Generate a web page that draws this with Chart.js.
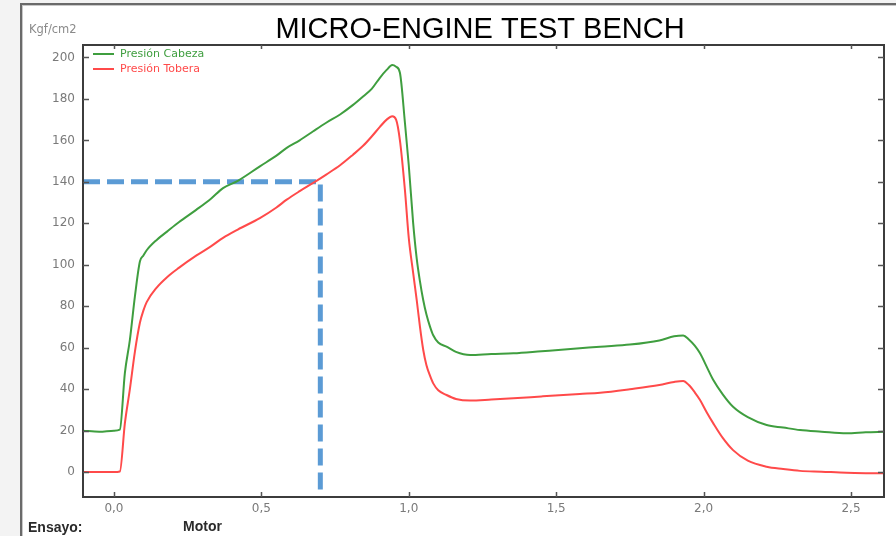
<!DOCTYPE html>
<html>
<head>
<meta charset="utf-8">
<script src="https://cdn.jsdelivr.net/npm/chart.js@4.4.1/dist/chart.umd.min.js"></script>
<style>
  html, body { margin: 0; padding: 0; width: 896px; height: 536px; overflow: hidden; background: #f3f3f3; }
  #frame { position: absolute; left: 20px; top: 3px; width: 890px; height: 545px; background: #fff;
           border-left: 2px solid #6a6a6a; border-top: 2px solid #6a6a6a; box-shadow: inset 1px 1px 0 #c8c8c8; }
  #c { position: absolute; left: 0; top: 0; }
</style>
</head>
<body>
<div id="frame"></div>
<canvas id="c" width="896" height="536"></canvas>
<script>
// ---- data ----
const chartTitle = "MICRO-ENGINE TEST BENCH";
const yUnit = "Kgf/cm2";
const footerLabels = ["Ensayo:", "Motor"];
const seriesNames = ["Presión Cabeza", "Presión Tobera"];

const time = [-0.105, -0.05, 0.0, 0.02, 0.037, 0.054, 0.071, 0.088, 0.1, 0.111, 0.145, 0.18, 0.22, 0.28, 0.33, 0.37,
  0.42, 0.495, 0.55, 0.586, 0.63, 0.676, 0.72, 0.767, 0.81, 0.846, 0.875, 0.902, 0.925, 0.944, 0.957, 0.97,
  0.987, 1.0, 1.015, 1.027, 1.038, 1.049, 1.06, 1.072, 1.083, 1.1, 1.128, 1.16, 1.208, 1.28, 1.355, 1.45,
  1.58, 1.649, 1.75, 1.85, 1.9, 1.931, 1.95, 1.97, 1.988, 2.01, 2.033, 2.065, 2.1, 2.15, 2.214, 2.27,
  2.327, 2.4, 2.485, 2.55, 2.612];

const presionCabeza = [20, 19.5, 20, 20.5, 47.7, 63.8, 84.7, 101.6, 104.5, 107, 112, 116, 120.5, 126.6, 132, 137,
  140.5, 147.5, 152.5, 156.4, 160, 164.4, 168.5, 172.5, 177, 181.3, 185, 190.2, 194, 196.3, 195.5, 192.6,
  168.5, 148, 120, 103, 92, 83, 76, 70.2, 66, 62.5, 60.5, 58, 56.5, 57, 57.3, 58.3,
  59.7, 60.5, 61.5, 63.5, 65.5, 65.9, 64, 61, 57.3, 51, 44.4, 37.5, 31.5, 26.5, 22.7, 21.5,
  20.3, 19.5, 18.7, 19.2, 19.5];

const presionTobera = [0, 0, 0, 0.3, 23.5, 40, 58, 72, 78, 82, 89, 94, 98.5, 104.5, 109, 113,
  117, 122.5, 127.5, 131.4, 135.5, 139.5, 143.5, 148, 153, 157.5, 162, 166.5, 170, 171.6, 170, 160,
  136, 113, 96, 83, 70, 59, 51.5, 46.5, 42.8, 39.5, 37.2, 35.3, 34.5, 35, 35.6, 36.5,
  37.7, 38.3, 40, 42, 43.5, 44, 42, 38.5, 34.8, 29, 23.5, 16.5, 10.6, 5.5, 2.6, 1.5,
  0.6, 0.2, -0.3, -0.5, -0.6];

// blue dashed guide at 140 Kgf/cm2 / 0,7 s
const guideX = [-0.105, 0.7, 0.7];
const guideY = [140, 140, -9];

const xMin = -0.105, xMax = 2.612, xStep = 0.5;
const yMin = -12, yMax = 206, yStep = 20;

const toPts = (xs, ys) => xs.map((x, i) => ({ x: x, y: ys[i] }));

const decorPlugin = {
  id: 'decor',
  afterDatasetsDraw(chart) {
    const ctx = chart.ctx, a = chart.chartArea;
    const xs = chart.scales.x, ys = chart.scales.y;
    ctx.save();
    // axis box
    ctx.strokeStyle = '#3c3c3c';
    ctx.lineWidth = 2;
    ctx.strokeRect(a.left, a.top, a.right - a.left, a.bottom - a.top);
    // inward tick marks
    ctx.strokeStyle = '#555';
    ctx.lineWidth = 1.5;
    ctx.beginPath();
    ys.ticks.forEach(t => {
      const p = Math.round(ys.getPixelForValue(t.value)) + 0.5;
      ctx.moveTo(a.left, p); ctx.lineTo(a.left + 6, p);
      ctx.moveTo(a.right, p); ctx.lineTo(a.right - 6, p);
    });
    xs.ticks.forEach(t => {
      const p = Math.round(xs.getPixelForValue(t.value)) + 0.5;
      ctx.moveTo(p, a.bottom); ctx.lineTo(p, a.bottom - 5);
      ctx.moveTo(p, a.top); ctx.lineTo(p, a.top + 4);
    });
    ctx.stroke();
    // legend (inside, top-left)
    const legendItems = chart.data.datasets.filter(d => d.showInLegend);
    ctx.font = '11px "DejaVu Sans"';
    ctx.textBaseline = 'middle';
    legendItems.forEach((d, i) => {
      const y = a.top + 9 + i * 15;
      ctx.strokeStyle = d.borderColor;
      ctx.lineWidth = 2;
      ctx.beginPath(); ctx.moveTo(a.left + 10, y); ctx.lineTo(a.left + 31, y); ctx.stroke();
      ctx.fillStyle = d.borderColor;
      ctx.fillText(d.label, a.left + 37, y);
    });
    // title
    ctx.fillStyle = '#000';
    ctx.font = '29px "Liberation Sans"';
    ctx.textAlign = 'center';
    ctx.textBaseline = 'alphabetic';
    ctx.fillText(chartTitle, 480, 38);
    // unit label
    ctx.fillStyle = '#8a8a8a';
    ctx.font = '11.5px "DejaVu Sans"';
    ctx.textAlign = 'left';
    ctx.textBaseline = 'middle';
    ctx.fillText(yUnit, 29, 30);
    // footer
    ctx.fillStyle = '#2a2a2a';
    ctx.font = 'bold 14px "Liberation Sans"';
    ctx.textBaseline = 'alphabetic';
    ctx.fillText(footerLabels[0], 28, 532);
    ctx.fillText(footerLabels[1], 183, 531);
    ctx.restore();
  }
};

new Chart(document.getElementById('c'), {
  type: 'line',
  data: {
    datasets: [
      { label: seriesNames[0], data: toPts(time, presionCabeza), borderColor: '#3f9e3f', borderWidth: 2,
        pointRadius: 0, cubicInterpolationMode: 'monotone', fill: false, showInLegend: true },
      { label: seriesNames[1], data: toPts(time, presionTobera), borderColor: '#ff4a4a', borderWidth: 2,
        pointRadius: 0, cubicInterpolationMode: 'monotone', fill: false, showInLegend: true },
      { label: 'guide', data: toPts(guideX, guideY), borderColor: '#5b9bd5', borderWidth: 5,
        borderDash: [17, 7], pointRadius: 0, tension: 0, fill: false, showInLegend: false }
    ]
  },
  options: {
    responsive: false,
    animation: false,
    events: [],
    layout: { padding: { left: 0, right: 12, top: 45, bottom: 0 } },
    plugins: { legend: { display: false }, title: { display: false }, tooltip: { enabled: false } },
    scales: {
      x: {
        type: 'linear', min: xMin, max: xMax,
        grid: { display: false, tickLength: 0 }, border: { display: false },
        ticks: { stepSize: xStep, includeBounds: false, color: '#7a7a7a', padding: 5,
                 font: { family: 'DejaVu Sans', size: 12 }, maxRotation: 0,
                 callback: v => v.toFixed(1).replace('.', ',') },
        afterFit: s => { s.height = 39; }
      },
      y: {
        min: yMin, max: yMax,
        grid: { display: false, tickLength: 0 }, border: { display: false },
        ticks: { stepSize: yStep, includeBounds: false, color: '#7a7a7a', padding: 8,
                 font: { family: 'DejaVu Sans', size: 12 } },
        afterFit: s => { s.width = 83; }
      }
    }
  },
  plugins: [decorPlugin]
});
</script>
</body>
</html>
